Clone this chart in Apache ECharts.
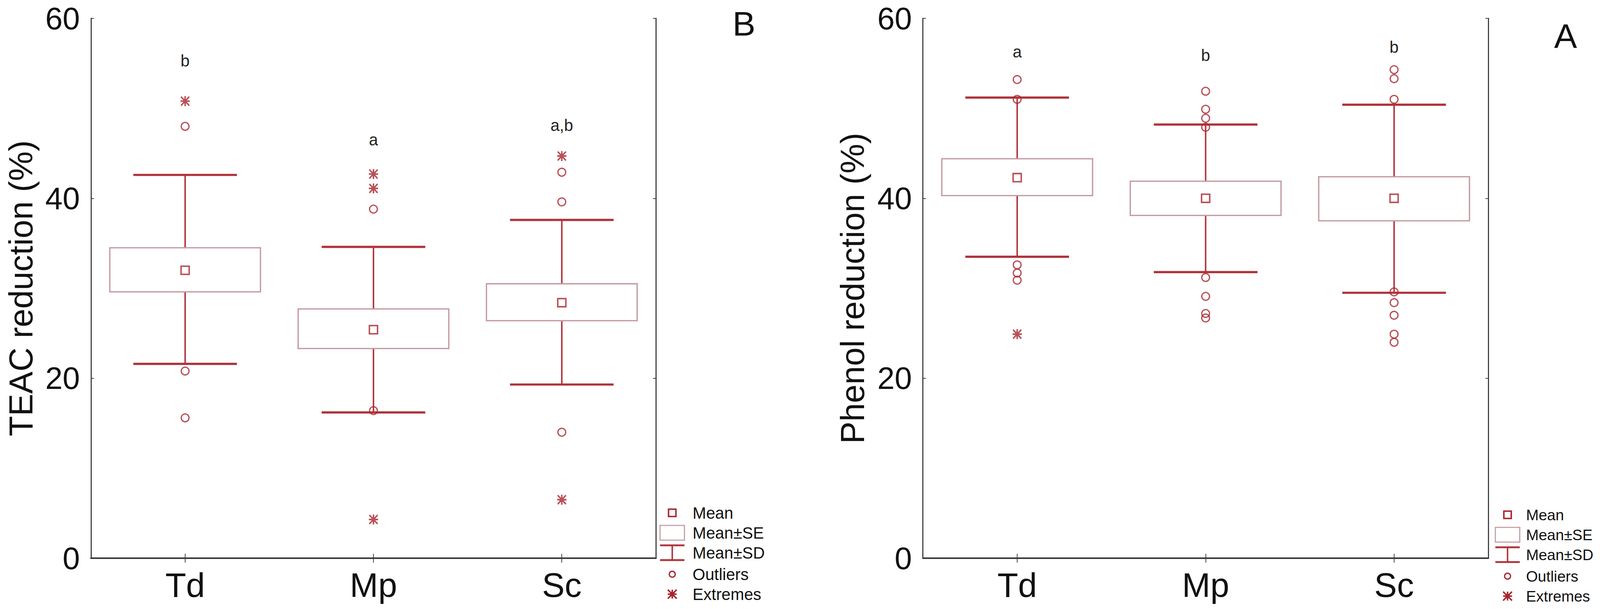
<!DOCTYPE html>
<html>
<head>
<meta charset="utf-8">
<title>TEAC / Phenol reduction</title>
<script src="https://cdn.jsdelivr.net/npm/echarts@6/dist/echarts.min.js"></script>
<style>
    html, body { margin: 0; padding: 0; background: #fff; overflow: hidden; }
    #chart { width: 100vw; height: 100vh; }
</style>
</head>
<body>
<div id="chart"></div>
<script>
var categories = ['Td', 'Mp', 'Sc'];
var yTicks = [0, 20, 40, 60];

// B: TEAC reduction
var teacMean = [32.0, 25.4, 28.4];
var teacSeLow = [29.6, 23.3, 26.4];
var teacSeHigh = [34.5, 27.7, 30.5];
var teacSdLow = [21.6, 16.2, 19.3];
var teacSdHigh = [42.6, 34.6, 37.6];
var teacOutliers = [[48.0, 20.8, 15.6], [38.8, 16.4], [42.9, 39.6, 14.0]];
var teacExtremes = [[50.8], [42.7, 41.1, 4.3], [44.7, 6.5]];
var teacLetters = ['b', 'a', 'a,b'];
var teacLetterY = [55.3, 46.5, 48.1];

// A: Phenol reduction
var phenolMean = [42.3, 40.0, 40.0];
var phenolSeLow = [40.3, 38.1, 37.5];
var phenolSeHigh = [44.4, 41.9, 42.4];
var phenolSdLow = [33.5, 31.8, 29.5];
var phenolSdHigh = [51.2, 48.2, 50.4];
var phenolOutliers = [[53.2, 51.0, 32.6, 31.7, 30.9], [51.9, 49.9, 48.9, 47.9, 31.2, 29.1, 27.2, 26.7], [54.3, 53.3, 51.0, 29.6, 28.4, 27.0, 24.9, 24.0]];
var phenolExtremes = [[24.9], [], []];
var phenolLetters = ['a', 'b', 'b'];
var phenolLetterY = [56.3, 55.9, 56.8];

var legendNames = ['Mean', 'Mean±SE', 'Mean±SD', 'Outliers', 'Extremes'];

var FONT = '"Liberation Sans", Arial, sans-serif';
var RED = '#b0333b';
var MARK = '#a8262e';
var BOXC = '#c49aa0';
var AXISC = '#3a3a3a';
var STAR = 'path://M42 0L58 0L58 100L42 100Z M0 42L100 42L100 58L0 58Z M0 11L11 0L100 89L89 100Z M89 0L100 11L11 100L0 89Z M28 28L72 28L72 72L28 72Z';

var chart = echarts.init(document.getElementById('chart'), null, {renderer: 'svg'});

// 按窗口缩放 (参考图 4327x1558)
var sx = chart.getWidth() / 4327;
var sy = chart.getHeight() / 1558;
var s = Math.min(sx, sy);
function X(v) { return v * sx; }
function Y(v) { return v * sy; }
function S(v) { return v * s; }

function flatten(lists) {
    var out = [];
    for (var i = 0; i < lists.length; i++) {
        for (var j = 0; j < lists[i].length; j++) {
            out.push([i, lists[i][j]]);
        }
    }
    return out;
}

// 箱体 + 须
function renderBox(params, api) {
    var x = api.value(0);
    var seLo = api.coord([x, api.value(2)]);
    var seHi = api.coord([x, api.value(3)]);
    var sdLo = api.coord([x, api.value(4)]);
    var sdHi = api.coord([x, api.value(5)]);
    var band = api.size([1, 0])[0];
    var bw = band * 0.8;
    var cw = band * 0.55;
    var cx = seLo[0];
    return {
        type: 'group',
        children: [
            {type: 'line', shape: {x1: cx, y1: sdHi[1], x2: cx, y2: seHi[1]}, style: {stroke: RED, lineWidth: S(4)}},
            {type: 'line', shape: {x1: cx, y1: seLo[1], x2: cx, y2: sdLo[1]}, style: {stroke: RED, lineWidth: S(4)}},
            {type: 'line', shape: {x1: cx - cw / 2, y1: sdHi[1], x2: cx + cw / 2, y2: sdHi[1]}, style: {stroke: RED, lineWidth: S(6)}},
            {type: 'line', shape: {x1: cx - cw / 2, y1: sdLo[1], x2: cx + cw / 2, y2: sdLo[1]}, style: {stroke: RED, lineWidth: S(6)}},
            {type: 'rect', shape: {x: cx - bw / 2, y: seHi[1], width: bw, height: seLo[1] - seHi[1]},
                style: {fill: '#fff', stroke: BOXC, lineWidth: S(3.5)}}
        ]
    };
}

function panelSeries(idx, mean, seLow, seHigh, sdLow, sdHigh, outliers, extremes, letters, letterY) {
    var xi = idx * 2, yi = idx * 2;
    var boxData = [];
    var meanData = [];
    var letterData = [];
    for (var i = 0; i < categories.length; i++) {
        boxData.push([i, mean[i], seLow[i], seHigh[i], sdLow[i], sdHigh[i]]);
        meanData.push([i, mean[i]]);
        letterData.push([i, letterY[i]]);
    }
    return [
        {
            name: 'Mean±SD', type: 'custom', xAxisIndex: xi, yAxisIndex: yi,
            renderItem: renderBox, encode: {x: 0, y: [1, 2, 3, 4, 5]}, data: boxData, z: 2
        },
        {
            name: 'Mean', type: 'scatter', xAxisIndex: xi, yAxisIndex: yi,
            symbol: 'rect', symbolSize: S(22), data: meanData, z: 5,
            itemStyle: {color: '#fff', borderColor: MARK, borderWidth: S(4)}
        },
        {
            name: 'Outliers', type: 'scatter', xAxisIndex: xi, yAxisIndex: yi,
            symbol: 'circle', symbolSize: S(21), data: flatten(outliers), z: 6,
            itemStyle: {color: 'rgba(255,255,255,0)', borderColor: MARK, borderWidth: S(3.5)}
        },
        {
            name: 'Extremes', type: 'scatter', xAxisIndex: xi, yAxisIndex: yi,
            symbol: STAR, symbolSize: [S(25), S(27)], data: flatten(extremes), z: 6,
            itemStyle: {color: MARK}
        },
        {
            name: 'letters', type: 'custom', xAxisIndex: xi, yAxisIndex: yi, data: letterData, z: 6,
            renderItem: function (params, api) {
                var p = api.coord([api.value(0), api.value(1)]);
                return {
                    type: 'text', x: p[0], y: p[1],
                    style: {text: letters[params.dataIndex], fontSize: S(44), fontFamily: FONT,
                        fill: '#222', align: 'center', verticalAlign: 'middle'}
                };
            }
        }
    ];
}

function xAxes(idx) {
    var common = {
        gridIndex: idx, type: 'category', data: categories,
        axisLine: {show: true, lineStyle: {color: AXISC, width: S(4)}},
        axisTick: {show: true, inside: true, alignWithLabel: true, length: S(12), lineStyle: {color: AXISC, width: S(2)}},
        splitLine: {show: false}
    };
    var bottom = Object.assign({}, common, {
        position: 'bottom',
        axisLabel: {fontSize: S(92), fontFamily: FONT, color: '#111', margin: S(26)}
    });
    var top = Object.assign({}, common, {position: 'top', axisLabel: {show: false}});
    return [bottom, top];
}

function yAxes(idx, title) {
    var common = {
        gridIndex: idx, type: 'value', min: yTicks[0], max: yTicks[yTicks.length - 1], interval: yTicks[1] - yTicks[0],
        axisLine: {show: true, lineStyle: {color: AXISC, width: S(3)}},
        axisTick: {show: true, inside: true, length: S(8), lineStyle: {color: AXISC, width: S(2)}},
        splitLine: {show: false}
    };
    var left = Object.assign({}, common, {
        position: 'left',
        name: title, nameLocation: 'middle', nameGap: X(150),
        nameTextStyle: {fontSize: S(90), lineHeight: S(80), fontFamily: FONT, color: '#111'},
        axisLabel: {fontSize: S(84), lineHeight: S(64), fontFamily: FONT, color: '#111', margin: X(30)}
    });
    var right = Object.assign({}, common, {position: 'right', axisLabel: {show: false}});
    return [left, right];
}

// 图例
function legendGraphic(cx0, cy0, textGap, fontSize) {
    var sxp = X(cx0), y0 = Y(cy0);
    var gap = Y(51);
    var hw = S(33), hh = S(20);
    var els = [];
    var y;
    // Mean
    y = y0;
    els.push({type: 'rect', shape: {x: sxp - S(10), y: y - S(10), width: S(20), height: S(20)}, style: {fill: '#fff', stroke: MARK, lineWidth: S(4)}});
    // Mean±SE
    y = y0 + gap;
    els.push({type: 'rect', shape: {x: sxp - hw, y: y - hh, width: hw * 2, height: hh * 2}, style: {fill: '#fff', stroke: BOXC, lineWidth: S(3)}});
    // Mean±SD
    y = y0 + gap * 2;
    els.push({type: 'line', shape: {x1: sxp, y1: y - hh, x2: sxp, y2: y + hh}, style: {stroke: RED, lineWidth: S(4)}});
    els.push({type: 'line', shape: {x1: sxp - hw, y1: y - hh, x2: sxp + hw, y2: y - hh}, style: {stroke: RED, lineWidth: S(5)}});
    els.push({type: 'line', shape: {x1: sxp - hw, y1: y + hh, x2: sxp + hw, y2: y + hh}, style: {stroke: RED, lineWidth: S(5)}});
    // Outliers
    y = y0 + gap * 3 + Y(4);
    els.push({type: 'circle', shape: {cx: sxp, cy: y, r: S(8)}, style: {fill: 'none', stroke: MARK, lineWidth: S(3.5)}});
    // Extremes
    y = y0 + gap * 4 + Y(4);
    var a = S(12);
    els.push({type: 'line', shape: {x1: sxp, y1: y - a, x2: sxp, y2: y + a}, style: {stroke: MARK, lineWidth: S(4)}});
    els.push({type: 'line', shape: {x1: sxp - a, y1: y - a, x2: sxp + a, y2: y + a}, style: {stroke: MARK, lineWidth: S(4)}});
    els.push({type: 'line', shape: {x1: sxp + a, y1: y - a, x2: sxp - a, y2: y + a}, style: {stroke: MARK, lineWidth: S(4)}});
    els.push({type: 'line', shape: {x1: sxp - a, y1: y, x2: sxp + a, y2: y}, style: {stroke: MARK, lineWidth: S(4)}});
    els.push({type: 'rect', shape: {x: sxp - S(6), y: y - S(6), width: S(12), height: S(12)}, style: {fill: MARK}});
    for (var i = 0; i < legendNames.length; i++) {
        els.push({
            type: 'text', x: sxp + X(textGap), y: y0 + gap * i + (i >= 3 ? Y(4) : 0),
            style: {text: legendNames[i], fontSize: S(fontSize), fontFamily: FONT, fill: '#111', align: 'left', verticalAlign: 'middle'}
        });
    }
    return els;
}

var option = {
    backgroundColor: '#fff',
    animation: false,
    grid: [
        {left: X(246), right: X(2553), top: Y(47), bottom: Y(130)},
        {left: X(2496), right: X(302), top: Y(47), bottom: Y(130)}
    ],
    xAxis: xAxes(0).concat(xAxes(1)),
    yAxis: yAxes(0, 'TEAC reduction (%)').concat(yAxes(1, 'Phenol reduction (%)')),
    series: panelSeries(0, teacMean, teacSeLow, teacSeHigh, teacSdLow, teacSdHigh, teacOutliers, teacExtremes, teacLetters, teacLetterY)
        .concat(panelSeries(1, phenolMean, phenolSeLow, phenolSeHigh, phenolSdLow, phenolSdHigh, phenolOutliers, phenolExtremes, phenolLetters, phenolLetterY)),
    graphic: [
        {type: 'text', x: X(2012), y: Y(60), style: {text: 'B', fontSize: S(93), fontFamily: FONT, fill: '#111', align: 'center', verticalAlign: 'middle'}},
        {type: 'text', x: X(4234), y: Y(92), style: {text: 'A', fontSize: S(93), fontFamily: FONT, fill: '#111', align: 'center', verticalAlign: 'middle'}}
    ].concat(legendGraphic(1818, 1312, 55, 44)).concat(legendGraphic(4077, 1317, 50, 41))
};

chart.setOption(option);
</script>
</body>
</html>
